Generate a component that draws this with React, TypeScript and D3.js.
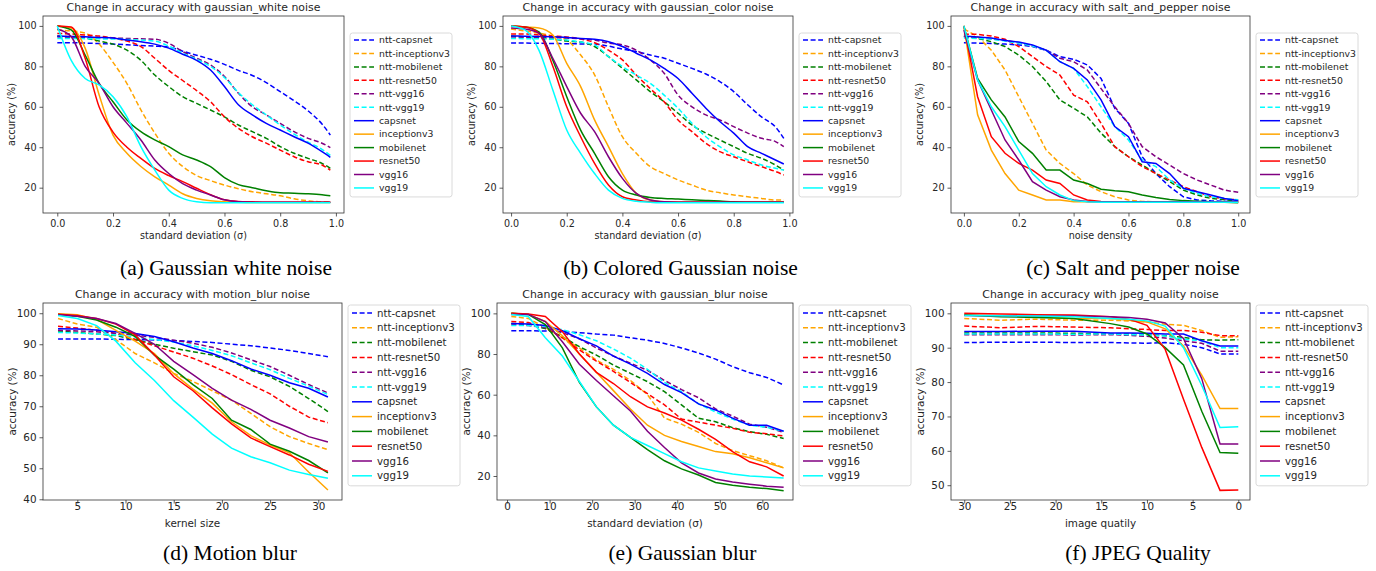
import React, { useEffect, useRef } from "react";
import * as d3 from "d3";

// ---- series (legend order) ----
const seriesNames = [
  "ntt-capsnet", "ntt-inceptionv3", "ntt-mobilenet", "ntt-resnet50", "ntt-vgg16", "ntt-vgg19",
  "capsnet", "inceptionv3", "mobilenet", "resnet50", "vgg16", "vgg19",
];
const seriesColors = [
  "#0000ff", "#ffa500", "#008000", "#ff0000", "#800080", "#00ffff",
  "#0000ff", "#ffa500", "#008000", "#ff0000", "#800080", "#00ffff",
];

// ---- (a) gaussian white noise ----
const whiteX = [0, 0.05, 0.1, 0.15, 0.2, 0.25, 0.3, 0.35, 0.4, 0.45, 0.5, 0.55, 0.6, 0.65, 0.7, 0.75, 0.8, 0.85, 0.9, 0.95, 0.98];
const whiteAcc = [
  [91.7, 91.7, 91.5, 91.3, 91, 90.7, 90.3, 90, 89.5, 87.5, 85.5, 83.5, 81, 78, 75.5, 72, 67.5, 63, 58, 51.5, 46],
  [98, 97.5, 96.5, 91, 82, 71.5, 58.5, 47, 37, 30.5, 26, 23.5, 21.3, 19.5, 18, 17, 16, 14.5, 13.5, 13, 13],
  [95, 94.5, 94, 92.5, 91, 88, 83, 75.7, 70, 65, 61.7, 58.4, 55, 51, 47.7, 44.4, 40.3, 37, 34.5, 32, 29.6],
  [96.3, 96, 95.5, 95, 94, 92.5, 89.8, 84, 78, 73, 68, 62.5, 55, 49.4, 45.2, 42, 38.6, 35.3, 32.8, 31.2, 28.7],
  [94.5, 94.4, 94.3, 94.2, 94, 93.8, 93.6, 93.4, 91.4, 87.3, 84, 80.7, 75, 66.7, 60, 56, 51.8, 47.7, 44.4, 42, 39.8],
  [93.8, 93.8, 93.7, 93.6, 93.5, 93.3, 93, 92.5, 90, 86.5, 83.5, 80, 74.5, 67, 61, 56, 51, 46.5, 42.5, 39, 36],
  [95, 94.8, 94.6, 94.3, 94, 93, 92.2, 91, 89, 86, 83, 78.2, 70, 61, 56, 51.8, 48.5, 45.2, 42, 37.8, 35],
  [100, 99, 89, 66, 46, 37, 30.5, 25.4, 21.3, 17, 14.7, 13.5, 13, 12.8, 12.7, 12.7, 12.7, 12.7, 12.7, 12.7, 12.7],
  [100, 98, 85.6, 71.6, 62.5, 53.5, 47.7, 43.6, 40.3, 36.2, 33.7, 30.4, 25, 21.5, 20, 18.5, 17.5, 17.3, 17, 16.5, 16],
  [100, 99.5, 84, 60, 47.5, 40, 34.5, 29.5, 26, 23, 19.7, 16.5, 14, 13.2, 13, 12.8, 12.8, 12.8, 12.8, 12.8, 12.8],
  [98.5, 94.7, 80, 71.6, 60, 51.8, 43.6, 33.7, 27, 22, 18.8, 16.4, 14, 13, 12.8, 12.8, 12.8, 12.8, 12.8, 12.8, 12.8],
  [100, 83, 74, 70.8, 65, 55, 40.3, 28.7, 18.8, 14.7, 13, 12.5, 12.5, 12.5, 12.5, 12.5, 12.5, 12.5, 12.5, 12.5, 12.5],
];

// ---- (b) gaussian color noise ----
const colorX = [0, 0.05, 0.1, 0.15, 0.2, 0.25, 0.3, 0.35, 0.4, 0.45, 0.5, 0.55, 0.6, 0.65, 0.7, 0.75, 0.8, 0.85, 0.9, 0.95, 0.98];
const colorAcc = [
  [91.5, 91.5, 91.4, 91.3, 91.2, 91.1, 91, 90, 88.5, 87.3, 85.6, 84, 81.5, 79, 76.2, 72.5, 67.5, 61, 55, 50, 44.4],
  [98.5, 97.5, 96.5, 95, 93, 85.6, 75.8, 60, 45.2, 37, 30.4, 27, 23.8, 21.3, 18.8, 17.5, 16.4, 15.5, 14.7, 13.9, 13.9],
  [95, 94.5, 94, 93.5, 92.5, 92, 89.8, 84.8, 79, 73.3, 67.5, 62.5, 56.8, 51, 47, 43.6, 40.3, 37, 34.5, 31.2, 28.7],
  [96, 96, 95.5, 95, 94.5, 93.5, 91.7, 88, 83.2, 75.7, 69, 62.5, 53.5, 47.7, 42, 37.8, 35.3, 32.8, 30.4, 28, 26.3],
  [94.5, 94.4, 94.3, 94.2, 94, 93.6, 93, 91.5, 90.6, 88, 83.2, 76.6, 65.8, 60, 56, 53.5, 50.2, 47, 44.4, 42.8, 40.3],
  [93.8, 93.7, 93.6, 93.4, 93, 92, 90.6, 84.8, 79.9, 75.7, 71.6, 65.8, 59.3, 51.8, 45.2, 40.3, 36.2, 33.7, 31.2, 29.6, 28.7],
  [95, 94.9, 94.8, 94.6, 94.3, 93.8, 93.4, 92.2, 89.8, 86.5, 83.2, 79, 74, 66.7, 59.3, 52.7, 47, 40.3, 37, 33.7, 31.7],
  [100, 99.5, 99, 95.5, 81.5, 70, 53.5, 40.3, 27, 17.2, 13.9, 13, 12.8, 12.8, 12.8, 12.8, 12.8, 12.8, 12.8, 12.8, 12.8],
  [100, 99.5, 97, 83, 65, 48.5, 37, 25.4, 18.8, 16.4, 15.2, 14.7, 14.4, 14, 13.7, 13.4, 13, 12.8, 12.8, 12.8, 12.8],
  [100, 99.5, 96.4, 80, 60, 45.2, 32, 21.3, 15.5, 13.9, 13, 12.8, 12.8, 12.8, 12.8, 12.8, 12.8, 12.8, 12.8, 12.8, 12.8],
  [99, 98.5, 96.4, 84, 70, 56.8, 47.7, 35.3, 24.6, 17.2, 13.9, 13, 12.8, 12.8, 12.8, 12.8, 12.8, 12.8, 12.8, 12.8, 12.8],
  [100, 98, 88, 68.3, 48.5, 37, 27, 18.8, 14.7, 13.3, 12.8, 12.5, 12.5, 12.5, 12.5, 12.5, 12.5, 12.5, 12.5, 12.5, 12.5],
];

// ---- (c) salt and pepper ----
const saltX = [0, 0.05, 0.1, 0.15, 0.2, 0.25, 0.3, 0.35, 0.4, 0.45, 0.5, 0.55, 0.6, 0.65, 0.7, 0.75, 0.8, 0.85, 0.9, 0.95, 1.0];
const saltAcc = [
  [91.7, 91.5, 91.3, 91, 90.6, 89.8, 88, 84.8, 83.5, 80.7, 74, 59.3, 51.8, 35.3, 27, 20.5, 15.5, 13.9, 13.5, 13.3, 13],
  [98.5, 94.7, 88, 78.2, 65, 51.8, 38.6, 32, 27, 21.3, 18, 15.5, 13.9, 13.2, 13, 13, 13, 13, 13, 13, 13],
  [95, 93.8, 92.2, 89.8, 85.6, 79.9, 72.5, 63.4, 59.3, 55, 47, 40.3, 35.3, 31.2, 27, 23, 18.8, 16.4, 14.7, 14, 13.5],
  [96, 95.8, 95, 93.4, 89.8, 84.8, 79.9, 75.7, 65.8, 62.5, 51.8, 40.3, 35.3, 30.4, 27, 23.8, 20.5, 18, 15.5, 14.5, 14],
  [94.5, 94.3, 93.5, 93, 91.5, 90, 88, 84, 82.3, 78.2, 69, 60, 51.8, 40.3, 35.3, 31.2, 27, 23.8, 21.3, 18.8, 17.7],
  [94, 93.8, 93.5, 92.5, 91.5, 90, 88, 82.3, 79, 70, 60, 50.2, 43.6, 33.7, 30.4, 23.8, 19.7, 17.2, 15.5, 14.7, 14],
  [95, 94.5, 94, 92.8, 92, 90.6, 88, 82.3, 79, 73.3, 63.4, 50.2, 45.2, 32.8, 32, 27, 19.7, 18, 16.4, 14.7, 13.5],
  [100, 56, 38.6, 27, 18.8, 16.4, 13.9, 13.9, 13, 13, 13, 13, 13, 13, 13, 13, 13, 13, 13, 13, 13],
  [100, 74, 63.4, 55, 42.8, 37, 28.7, 28.7, 23.8, 22.1, 19.2, 18.5, 18, 16.4, 15.2, 14.2, 13.6, 13.3, 13, 12.8, 12.5],
  [100, 65, 45.2, 37, 32, 28.7, 23.8, 22.1, 16.4, 13.9, 13.2, 13, 13, 13, 13, 13, 13, 13, 13, 13, 13],
  [98, 73.3, 58.4, 43.6, 33.7, 23, 18.8, 15.5, 13.9, 13.2, 13, 13, 13, 13, 13, 13, 13, 13, 13, 13, 13],
  [100, 73.3, 60, 50.2, 38.6, 27, 20.5, 16.4, 13.6, 13, 12.8, 12.8, 12.8, 12.8, 12.8, 12.8, 12.8, 12.8, 12.8, 12.8, 12.8],
];

// ---- (d) motion blur ----
const motionX = [3, 5, 7, 9, 11, 13, 15, 17, 19, 21, 23, 25, 27, 29, 31];
const motionAcc = [
  [91.7, 91.7, 91.7, 91.6, 91.5, 91.4, 91.2, 90.9, 90.6, 90, 89.5, 88.8, 88, 87, 86],
  [98.3, 96.5, 95.5, 91.5, 87, 84, 80.6, 78, 75, 72, 67.7, 63.4, 60.2, 58, 56],
  [94.3, 93.8, 93.3, 92.8, 91.5, 90, 88.7, 87.6, 86.5, 84.5, 81.6, 79.5, 76.4, 72.5, 68.3],
  [95.8, 95.2, 94.5, 93.5, 91.5, 89.5, 87.5, 85.5, 83, 80.2, 77, 74, 70, 66.5, 64.7],
  [94.5, 94.3, 94, 93.5, 93, 92.2, 91.3, 90.3, 89, 87.2, 85, 82.8, 80, 77, 74.3],
  [93.8, 93.6, 93.3, 93, 92.3, 91.5, 90.7, 89.5, 88, 86.3, 84, 81.8, 79, 76.5, 73.8],
  [95, 94.9, 94.6, 94, 93.5, 92.5, 90.8, 88.8, 87, 84.7, 82, 80, 77.6, 75.8, 73],
  [99.8, 99.5, 98, 94.5, 91, 87, 80.5, 75.5, 71, 65, 60.5, 57.5, 55, 48.8, 43],
  [99.6, 99, 97.8, 95.5, 92.5, 86.5, 82, 77, 72.5, 65.5, 62.5, 57.8, 55.5, 52.5, 48.5],
  [99.7, 99.3, 98.3, 96.5, 93, 86.5, 79.5, 75, 69.5, 64.3, 59.8, 57, 54.3, 51.3, 49],
  [99.5, 99, 98.3, 96.7, 93.5, 90, 84.5, 80.2, 75.8, 72, 69, 65.5, 63, 60.2, 58.5],
  [99.3, 98.3, 96, 91, 84, 78.3, 71.8, 66.5, 61, 56.5, 53.7, 51.8, 49.4, 48, 46.8],
];

// ---- (e) gaussian blur ----
const blurX = [1, 5, 9, 13, 17, 21, 25, 29, 33, 37, 41, 45, 49, 53, 57, 61, 65];
const blurAcc = [
  [91.5, 91.5, 91.3, 91, 90.5, 89.8, 89.3, 88, 86.8, 85.2, 83, 80.5, 77.5, 73.8, 70.8, 68.5, 64.8],
  [98.5, 97.5, 93, 88, 83, 77, 72.5, 67, 60, 48.5, 45.5, 41.5, 36, 32.5, 30, 27.5, 24],
  [95, 94.5, 92.5, 88.5, 83.6, 79.5, 74.6, 70.5, 66.4, 61.5, 55, 48.4, 46.7, 43.8, 41.8, 40.5, 38.5],
  [96, 95.5, 93, 88, 82, 76.5, 71.5, 66, 60.5, 55, 48, 46.5, 45, 43.5, 41.5, 40.8, 39.7],
  [94.5, 94, 93, 90.5, 87.5, 83, 79, 75.5, 72, 67, 62.5, 58.5, 53, 49.5, 45.5, 44, 41.5],
  [94, 94, 93.5, 92, 89.5, 86.5, 82.5, 78, 72.5, 66, 61.5, 55.5, 51.5, 48, 45, 44, 42],
  [95, 94.8, 94, 91.5, 87.5, 84, 79, 75, 70.5, 65, 61, 55.5, 52.5, 48.5, 45, 45, 42],
  [100, 99.5, 96, 89, 80, 71, 62, 53, 45, 40, 37, 34.5, 32, 31, 29, 26.5, 24],
  [100, 99.5, 94.5, 83, 66, 54, 45, 39, 33, 27.5, 23.5, 20.5, 16.8, 15.5, 14.5, 13.8, 12.8],
  [100, 99.7, 98.5, 91, 80, 71, 65.5, 59, 54, 51, 47.5, 43, 38, 32, 27, 24.5, 20],
  [99.5, 99.5, 96, 86, 75, 67, 59.5, 52, 42, 34, 26.5, 21.5, 18.5, 17, 16, 15, 14.5],
  [99.5, 98.5, 88, 79, 66.5, 54, 45, 39, 35, 31, 27, 24, 22.5, 21, 20, 19.5, 19],
];

// ---- (f) jpeg quality ----
const jpegX = [30, 26, 22, 18, 14, 12, 10, 8, 6, 4, 2, 0];
const jpegAcc = [
  [91.5, 91.6, 91.6, 91.5, 91.5, 91.4, 91.3, 91.5, 91, 90, 88.2, 88.2],
  [98.5, 98, 98.3, 98, 98, 97.8, 97.5, 96.8, 96.5, 95, 93, 93.2],
  [94.3, 94.3, 94.3, 94.2, 94, 94, 93.8, 93.5, 93, 92.3, 92.2, 92.3],
  [96.3, 95.8, 96.2, 96, 95.8, 95.5, 95.3, 95, 95, 94.5, 93.5, 93.5],
  [93.8, 93.8, 93.8, 93.7, 93.8, 93.6, 93.3, 92.8, 92, 91.3, 89, 89],
  [94, 94, 94, 93.9, 94, 93.8, 93.7, 93.4, 92.5, 92, 90, 90],
  [94.7, 94.7, 94.8, 94.8, 94.3, 94.3, 94.2, 94, 94, 92, 90.5, 90.5],
  [99.5, 99.3, 99, 98.5, 98.5, 98, 97.5, 95.5, 90.5, 82, 72.3, 72.3],
  [99.5, 99, 98.8, 98.5, 97, 96, 94, 90, 85, 71.5, 59.5, 59.3],
  [100, 99.8, 99.6, 99.5, 99, 98.3, 96.5, 89.5, 75, 61, 48.5, 48.6],
  [99.4, 99.3, 99.2, 99.2, 99, 98.8, 98.3, 97.2, 92.7, 81, 62, 62],
  [99.4, 99.3, 99.2, 99, 98.5, 98.3, 97.8, 96.3, 90, 79, 66.8, 67],
];

const panels = [
  {
    title: "Change in accuracy with gaussian_white noise", xLabel: "standard deviation (σ)",
    caption: "(a) Gaussian white noise", row: 0, frame: { l: 43, r: 344, t: 16, b: 213 },
    xDomain: [-0.0513, 1.029], yDomain: [7.48, 104.9], xTicks: [0, 0.2, 0.4, 0.6, 0.8, 1.0],
    yTicks: [20, 40, 60, 80, 100], fmt: ".1f", xs: whiteX, ys: whiteAcc, curve: d3.curveMonotoneX,
  },
  {
    title: "Change in accuracy with gaussian_color noise", xLabel: "standard deviation (σ)",
    caption: "(b) Colored Gaussian noise", row: 0, frame: { l: 503, r: 793, t: 16, b: 213 },
    xDomain: [-0.029, 1.013], yDomain: [7.48, 104.9], xTicks: [0, 0.2, 0.4, 0.6, 0.8, 1.0],
    yTicks: [20, 40, 60, 80, 100], fmt: ".1f", xs: colorX, ys: colorAcc, curve: d3.curveMonotoneX,
  },
  {
    title: "Change in accuracy with salt_and_pepper noise", xLabel: "noise density",
    caption: "(c) Salt and pepper noise", row: 0, frame: { l: 951, r: 1250, t: 16, b: 213 },
    xDomain: [-0.047, 1.043], yDomain: [7.48, 104.9], xTicks: [0, 0.2, 0.4, 0.6, 0.8, 1.0],
    yTicks: [20, 40, 60, 80, 100], fmt: ".1f", xs: saltX, ys: saltAcc, curve: d3.curveLinear,
  },
  {
    title: "Change in accuracy with motion_blur noise", xLabel: "kernel size",
    caption: "(d) Motion blur", row: 1, frame: { l: 43, r: 342, t: 303, b: 500 },
    xDomain: [1.44, 32.46], yDomain: [39.77, 103.3], xTicks: [5, 10, 15, 20, 25, 30],
    yTicks: [40, 50, 60, 70, 80, 90, 100], fmt: "d", xs: motionX, ys: motionAcc, curve: d3.curveLinear,
  },
  {
    title: "Change in accuracy with gaussian_blur noise", xLabel: "standard deviation (σ)",
    caption: "(e) Gaussian blur", row: 1, frame: { l: 497, r: 793, t: 303, b: 500 },
    xDomain: [-2.36, 67.2], yDomain: [8.2, 105.1], xTicks: [0, 10, 20, 30, 40, 50, 60],
    yTicks: [20, 40, 60, 80, 100], fmt: "d", xs: blurX, ys: blurAcc, curve: d3.curveLinear,
  },
  {
    title: "Change in accuracy with jpeg_quality noise", xLabel: "image quatily",
    caption: "(f) JPEG Quality", row: 1, frame: { l: 951, r: 1250, t: 303, b: 500 },
    xDomain: [31.45, -1.28], yDomain: [45.7, 103.0], xTicks: [30, 25, 20, 15, 10, 5, 0],
    yTicks: [50, 60, 70, 80, 90, 100], fmt: "d", xs: jpegX, ys: jpegAcc, curve: d3.curveLinear,
  },
];

// per-row text sizing (row 1 images are a bit larger in the figure)
const rowStyle = [
  { font: 9.6, leg: 9.3, title: 10.9, legTop: 33, legFirst: 40, legStep: 13.45, legW: 102, tickY: 224, labelY: 236, capY: 275 },
  { font: 10.4, leg: 10.2, title: 10.9, legTop: 305, legFirst: 313, legStep: 14.8, legW: 112, tickY: 506, labelY: 523, capY: 560 },
];

const SANS = "DejaVu Sans, sans-serif";
const SERIF = "Liberation Serif, Times New Roman, serif";

export default function App() {
  const svgRef = useRef<SVGSVGElement>(null);

  useEffect(() => {
    const svg = d3.select(svgRef.current);
    svg.selectAll("*").remove();

    panels.forEach((p) => {
      const f = p.frame;
      const rs = rowStyle[p.row];
      const x = d3.scaleLinear().domain(p.xDomain).range([f.l, f.r]);
      const y = d3.scaleLinear().domain(p.yDomain).range([f.b, f.t]);
      const g = svg.append("g");

      // --- LINES ---
      const line = d3
        .line<number>()
        .x((d, i) => x(p.xs[i]))
        .y((d) => y(d))
        .curve(p.curve);

      p.ys.forEach((vals, k) => {
        g.append("path")
          .datum(vals)
          .attr("d", line)
          .attr("fill", "none")
          .attr("stroke", seriesColors[k])
          .attr("stroke-width", 1.5)
          .attr("stroke-dasharray", k < 6 ? "5,2.6" : null);
      });

      // --- FRAME ---
      g.append("rect")
        .attr("x", f.l)
        .attr("y", f.t)
        .attr("width", f.r - f.l)
        .attr("height", f.b - f.t)
        .attr("fill", "none")
        .attr("stroke", "#333")
        .attr("stroke-width", 0.8);

      // --- AXES ---
      const xAxis = g
        .append("g")
        .attr("transform", `translate(0,${f.b})`)
        .call(d3.axisBottom(x).tickValues(p.xTicks).tickSize(3.5).tickPadding(3).tickFormat(d3.format(p.fmt)));
      const yAxis = g
        .append("g")
        .attr("transform", `translate(${f.l},0)`)
        .call(d3.axisLeft(y).tickValues(p.yTicks).tickSize(3.5).tickPadding(3).tickFormat(d3.format("d")));
      [xAxis, yAxis].forEach((a) => {
        a.select(".domain").remove();
        a.selectAll("line").attr("stroke", "#333").attr("stroke-width", 0.8);
        a.selectAll("text")
          .attr("fill", "#262626")
          .style("font-family", SANS)
          .style("font-size", `${rs.font}px`);
      });
      xAxis.selectAll("text").attr("dy", null).attr("y", rs.tickY - f.b + rs.font * 0.35);

      // --- TITLE & LABELS ---
      g.append("text")
        .attr("x", (f.l + f.r) / 2)
        .attr("y", f.t - 5)
        .attr("text-anchor", "middle")
        .style("font-family", SANS)
        .style("font-size", `${rs.title}px`)
        .style("fill", "#262626")
        .text(p.title);

      g.append("text")
        .attr("x", (f.l + f.r) / 2)
        .attr("y", rs.labelY + rs.font * 0.35)
        .attr("text-anchor", "middle")
        .style("font-family", SANS)
        .style("font-size", `${rs.font}px`)
        .style("fill", "#262626")
        .text(p.xLabel);

      g.append("text")
        .attr("transform", `translate(${f.l - 31},${(f.t + f.b) / 2}) rotate(-90)`)
        .attr("text-anchor", "middle")
        .attr("dy", "0.35em")
        .style("font-family", SANS)
        .style("font-size", `${rs.font}px`)
        .style("fill", "#262626")
        .text("accuracy (%)");

      // --- LEGEND ---
      const lx = f.r + 6;
      const leg = g.append("g");
      const legH = 2 * (rs.legFirst - rs.legTop) + rs.legStep * 11 + 2;
      leg.append("rect")
        .attr("x", lx)
        .attr("y", rs.legTop)
        .attr("width", rs.legW)
        .attr("height", legH)
        .attr("rx", 2.5)
        .attr("fill", "#fff")
        .attr("stroke", "#d0d0d0")
        .attr("stroke-width", 0.8);
      seriesNames.forEach((name, k) => {
        const ly = rs.legFirst + k * rs.legStep;
        leg.append("line")
          .attr("x1", lx + 4)
          .attr("x2", lx + 24)
          .attr("y1", ly)
          .attr("y2", ly)
          .attr("stroke", seriesColors[k])
          .attr("stroke-width", 1.5)
          .attr("stroke-dasharray", k < 6 ? "5,2.6" : null);
        leg.append("text")
          .attr("x", lx + 29)
          .attr("y", ly)
          .attr("dy", "0.35em")
          .style("font-family", SANS)
          .style("font-size", `${rs.leg}px`)
          .style("fill", "#262626")
          .text(name);
      });

      // --- CAPTION ---
      g.append("text")
        .attr("x", (f.l - 43 + lx + rs.legW) / 2)
        .attr("y", rs.capY)
        .attr("text-anchor", "middle")
        .style("font-family", SERIF)
        .style("font-size", "21.5px")
        .style("fill", "#000")
        .text(p.caption);
    });
  }, []);

  return (
    <svg
      ref={svgRef}
      width="1376"
      height="571"
      style={{ position: "absolute", left: 0, top: 0, background: "#fff" }}
    ></svg>
  );
}
